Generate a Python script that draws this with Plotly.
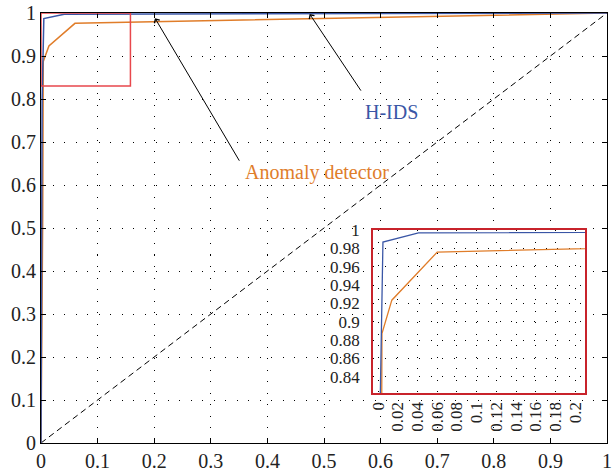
import plotly.graph_objects as go

# ---- data ----
fpr_hids = [0.0, 0.001, 0.002, 0.005, 0.041, 1.0]
tpr_hids = [0.0, 0.50, 0.80, 0.987, 0.997, 1.0]

fpr_anom = [0.0, 0.002, 0.003, 0.004, 0.014, 0.06, 1.0]
tpr_anom = [0.0, 0.30, 0.525, 0.887, 0.9235, 0.976, 1.0]

diag_x = [0.0, 1.0]
diag_y = [0.0, 1.0]

main_ticks = [0, 0.1, 0.2, 0.3, 0.4, 0.5, 0.6, 0.7, 0.8, 0.9, 1.0]
main_ticktext = ["0", "0.1", "0.2", "0.3", "0.4", "0.5", "0.6", "0.7", "0.8", "0.9", "1"]

inset_xticks = [0, 0.02, 0.04, 0.06, 0.08, 0.1, 0.12, 0.14, 0.16, 0.18, 0.2]
inset_xticktext = ["0", "0.02", "0.04", "0.06", "0.08", "0.1", "0.12", "0.14", "0.16", "0.18", "0.2"]
inset_yticks = [0.84, 0.86, 0.88, 0.9, 0.92, 0.94, 0.96, 0.98, 1.0]
inset_yticktext = ["0.84", "0.86", "0.88", "0.9", "0.92", "0.94", "0.96", "0.98", "1"]

BLUE = "#3A56A6"
ORANGE = "#E07D2A"
FONT = "Liberation Serif"

fig = go.Figure()

# main traces
fig.add_trace(go.Scatter(x=diag_x, y=diag_y, mode="lines",
                         line=dict(color="black", width=1, dash="6px,4px"),
                         xaxis="x", yaxis="y", showlegend=False, hoverinfo="skip"))
fig.add_trace(go.Scatter(x=fpr_anom, y=tpr_anom, mode="lines",
                         line=dict(color=ORANGE, width=1.5),
                         xaxis="x", yaxis="y", showlegend=False))
fig.add_trace(go.Scatter(x=fpr_hids, y=tpr_hids, mode="lines",
                         line=dict(color=BLUE, width=1.5),
                         xaxis="x", yaxis="y", showlegend=False))

# inset traces
fig.add_trace(go.Scatter(x=fpr_anom, y=tpr_anom, mode="lines",
                         line=dict(color=ORANGE, width=1.3),
                         xaxis="x2", yaxis="y2", showlegend=False))
fig.add_trace(go.Scatter(x=fpr_hids, y=tpr_hids, mode="lines",
                         line=dict(color=BLUE, width=1.3),
                         xaxis="x2", yaxis="y2", showlegend=False))

grid_dash = "1px,10.5px"

fig.update_layout(
    width=613, height=474,
    margin=dict(l=41, r=1, t=13, b=31),
    paper_bgcolor="white", plot_bgcolor="white",
    font=dict(family=FONT, size=20, color="#222"),
    xaxis=dict(domain=[0, 1], range=[0, 1], tickvals=main_ticks, ticktext=main_ticktext,
               ticks="inside", ticklen=5, tickcolor="black", mirror="allticks",
               showline=True, linecolor="black", linewidth=1,
               showgrid=True, gridcolor="black", gridwidth=1, griddash=grid_dash,
               zeroline=False, ticklabeloverflow="allow", tickfont=dict(size=20, family=FONT)),
    yaxis=dict(domain=[0, 1], range=[0, 1], tickvals=main_ticks, ticktext=main_ticktext,
               ticks="inside", ticklen=5, tickcolor="black", mirror="allticks",
               showline=True, linecolor="black", linewidth=1,
               showgrid=True, gridcolor="black", gridwidth=1, griddash=grid_dash,
               zeroline=False, ticklabeloverflow="allow", tickfont=dict(size=20, family=FONT)),
    xaxis2=dict(domain=[0.5867, 0.9615], range=[-0.005, 0.21], anchor="y2",
                tickvals=inset_xticks, ticktext=inset_xticktext, tickangle=-90,
                ticks="", showline=True, linecolor="#C8232B", linewidth=2, mirror=True,
                showgrid=True, gridcolor="black", gridwidth=1, griddash=grid_dash,
                zeroline=False, tickfont=dict(size=17, family=FONT)),
    yaxis2=dict(domain=[0.116, 0.495], range=[0.822, 1.0], anchor="x2",
                tickvals=inset_yticks, ticktext=inset_yticktext,
                ticks="", showline=True, linecolor="#C8232B", linewidth=2, mirror=True,
                showgrid=True, gridcolor="black", gridwidth=1, griddash=grid_dash,
                zeroline=False, ticklabelstandoff=8, tickfont=dict(size=17, family=FONT)),
    shapes=[
        dict(type="rect", xref="x", yref="y", x0=0, x1=0.158, y0=0.83, y1=1.0,
             line=dict(color="#E8474C", width=1.5)),
    ],
    annotations=[
        dict(x=0.4746, y=0.9977, ax=0.567, ay=0.816, xref="x", yref="y", axref="x", ayref="y",
             text="", showarrow=True, arrowhead=4, arrowsize=1.2, arrowwidth=1, arrowcolor="black"),
        dict(x=0.2014, y=0.988, ax=0.352, ay=0.653, xref="x", yref="y", axref="x", ayref="y",
             text="", showarrow=True, arrowhead=4, arrowsize=1.2, arrowwidth=1, arrowcolor="black"),
        dict(x=0.620, y=0.770, xref="x", yref="y", text="H-IDS", showarrow=False,
             font=dict(color=BLUE, size=20, family=FONT)),
        dict(x=0.487, y=0.630, xref="x", yref="y", text="Anomaly detector", showarrow=False,
             font=dict(color=ORANGE, size=20, family=FONT)),
    ],
)

fig.write_html("out.html", config={"displayModeBar": False},
               post_script="document.body.style.margin='0';document.body.style.overflow='hidden';")
